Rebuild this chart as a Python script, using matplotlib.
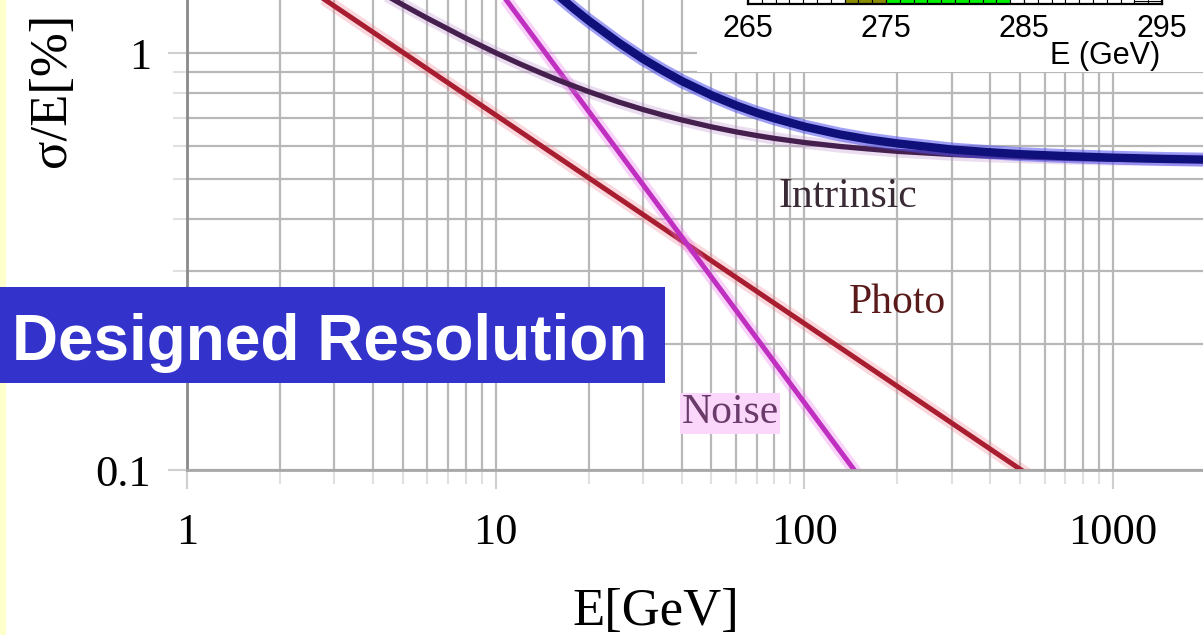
import matplotlib
matplotlib.use("Agg")
import matplotlib.pyplot as plt
from matplotlib.patches import Rectangle

# energy resolution terms, sigma/E in %, read along E in GeV
energy = [1, 2, 3, 4, 5, 6, 8, 10, 12, 14, 16, 18, 20, 25, 30, 35, 40, 50, 60,
          70, 80, 100, 130, 160, 200, 300, 400, 500, 700, 1000, 1500, 2000]
intrinsic = [2.570, 1.950, 1.624, 1.433, 1.305, 1.212, 1.085, 1.001, 0.941,
             0.896, 0.860, 0.832, 0.808, 0.763, 0.732, 0.709, 0.691, 0.665,
             0.647, 0.634, 0.624, 0.610, 0.597, 0.589, 0.581, 0.571, 0.566,
             0.563, 0.559, 0.556, 0.554, 0.553]
total = [14.83, 7.82, 5.36, 4.15, 3.40, 2.89, 2.20, 1.900, 1.663, 1.495,
         1.370, 1.273, 1.196, 1.059, 0.968, 0.905, 0.857, 0.792, 0.749,
         0.719, 0.697, 0.666, 0.638, 0.621, 0.607, 0.587, 0.578, 0.572,
         0.566, 0.561, 0.557, 0.555]
line_e = [1, 2000]
photo = [2.245, 0.0502]
noise = [14.5, 0.00725]

xticks = [1, 10, 100, 1000]
xticklabels = ["1", "10", "100", "1000"]
yticks = [0.1, 1]
yticklabels = ["0.1", "1"]

# peak histogram shown in the small panel
hist_left = list(range(265, 295))
hist_counts = [2, 2, 3, 3, 4, 5, 7, 10, 14, 19, 26, 34, 42, 50, 55, 56, 52,
               45, 37, 28, 20, 14, 9, 6, 4, 3, 2, 2, 1, 1]
hist_colors = (["white"] * 7 + ["#8c8c00"] * 3 + ["#00f000"] * 9
               + ["white"] * 11)
inset_ticks = [265, 275, 285, 295]

W, H = 1203, 635
fig = plt.figure(figsize=(W / 100, H / 100), dpi=100)
serif = ["Liberation Serif", "DejaVu Serif"]
sans = ["Liberation Sans", "DejaVu Sans"]

ax = fig.add_axes([187 / W, 1 - 470 / H, 1 - 187 / W, 470 / H])
ax.set_xscale("log")
ax.set_yscale("log")
ax.set_xlim(1, 1955)
ax.set_ylim(0.1, 1.34)

ax.grid(True, which="both", color="#b8b8b8", lw=1.6)
ax.set_axisbelow(True)
for s in ["top", "right"]:
    ax.spines[s].set_visible(False)
ax.spines["left"].set_color("#8a8a8a")
ax.spines["left"].set_linewidth(2)
ax.spines["bottom"].set_color("#a8a8a8")
ax.spines["bottom"].set_linewidth(2)

ax.set_xticks(xticks)
ax.set_xticklabels(xticklabels, family=serif, fontsize=32)
ax.set_yticks(yticks)
ax.set_yticklabels(yticklabels, family=serif, fontsize=32)
ax.tick_params(which="major", length=14, width=1.5, color="#cfcfcf")
ax.tick_params(which="minor", length=10, width=1.5, color="#e0e0e0",
               labelbottom=False, labelleft=False)
ax.tick_params(axis="x", pad=17)
ax.tick_params(axis="y", pad=12)

# soft halos under the curves, then the curves themselves
ax.plot(line_e, photo, color="#f08090", lw=9, alpha=0.3, solid_capstyle="butt")
ax.plot(line_e, photo, color="#a81e30", lw=3.6)
ax.plot(line_e, noise, color="#f070f0", lw=9, alpha=0.3, solid_capstyle="butt")
ax.plot(line_e, noise, color="#c030c0", lw=3.6)
ax.plot(energy, intrinsic, color="#c090d0", lw=9, alpha=0.3)
ax.plot(energy, intrinsic, color="#45204f", lw=3.8)
ax.plot(energy, total, color="#5050f0", lw=10, alpha=0.55)
ax.plot(energy, total, color="#10107a", lw=6)

lab = dict(family=serif, fontsize=30, ha="center", va="center")
fig.text(848 / W, 1 - 197 / H, "Intrinsic", color="#3a2a35", **lab)
fig.text(897 / W, 1 - 303 / H, "Photo", color="#5a1a1a", **lab)
fig.text(730 / W, 1 - 413 / H, "Noise", color="#6a3a6a",
         bbox=dict(facecolor="#fbd8fb", edgecolor="none", pad=1), **lab)

fig.text(656 / W, 1 - 612 / H, "E[GeV]", family=serif, fontsize=38,
         ha="center", va="center")
fig.text(52 / W, 1 - 90 / H, "σ/E[%]", family=serif, fontsize=38,
         rotation=90, ha="center", va="center")

# white card behind the small histogram panel
fig.patches.append(Rectangle((697 / W, 1 - 72 / H), 1 - 697 / W, 72 / H,
                             transform=fig.transFigure, facecolor="white",
                             edgecolor="none", zorder=1))

ins = fig.add_axes([748 / W, 1 - 4 / H, (1162 - 748) / W, 200 / H])
ins.set_zorder(2)
ins.bar(hist_left, hist_counts, width=1, align="edge", color=hist_colors,
        edgecolor="black", lw=0.8)
ins.set_xlim(265, 295)
ins.set_ylim(0, 60)
ins.set_xticks(inset_ticks)
ins.set_xticks(range(265, 296), minor=True)
ins.set_yticks([])
ins.tick_params(axis="x", which="major", direction="in", length=12,
                labelsize=22, pad=7)
ins.tick_params(axis="x", which="minor", direction="in", length=6)
for lbl in ins.get_xticklabels():
    lbl.set_family(sans)
for s in ins.spines.values():
    s.set_linewidth(1.6)
fig.text(1160 / W, 1 - 56 / H, "E (GeV)", family=sans,
         fontsize=22, ha="right", va="center", zorder=3)

# left edge strip and the title banner
fig.patches.append(Rectangle((0, 0), 6 / W, 1, transform=fig.transFigure,
                             facecolor="#ffffcc", edgecolor="none", zorder=4))
fig.patches.append(Rectangle((0, 1 - 383 / H), 665 / W, 96 / H,
                             transform=fig.transFigure, facecolor="#3333cc",
                             edgecolor="none", zorder=5))
fig.text(12 / W, 1 - 360 / H, "Designed Resolution", color="white",
         family=sans, fontweight="bold",
         fontsize=46, ha="left", va="baseline", zorder=6)

fig.savefig("out.png", dpi=100)
